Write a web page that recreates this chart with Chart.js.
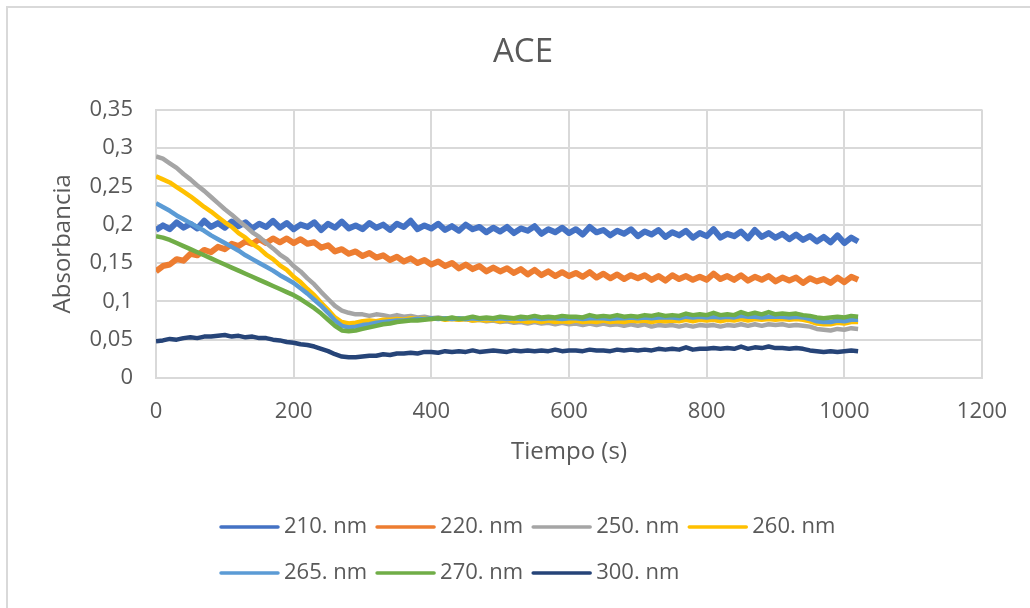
<!DOCTYPE html>
<html>
<head>
<meta charset="utf-8">
<script src="https://cdn.jsdelivr.net/npm/chart.js@4.4.1/dist/chart.umd.min.js"></script>
<style>
  html, body { margin: 0; padding: 0; background: #fff; }
  #wrap { position: relative; width: 1030px; height: 608px; }
</style>
</head>
<body>
<div id="wrap"><canvas id="myChart" width="1030" height="608"></canvas></div>
<script>
// tiempo (s), one reading every 10 s
const tiempo = [
  0, 10, 20, 30, 40, 50, 60, 70, 80, 90,
  100, 110, 120, 130, 140, 150, 160, 170, 180, 190,
  200, 210, 220, 230, 240, 250, 260, 270, 280, 290,
  300, 310, 320, 330, 340, 350, 360, 370, 380, 390,
  400, 410, 420, 430, 440, 450, 460, 470, 480, 490,
  500, 510, 520, 530, 540, 550, 560, 570, 580, 590,
  600, 610, 620, 630, 640, 650, 660, 670, 680, 690,
  700, 710, 720, 730, 740, 750, 760, 770, 780, 790,
  800, 810, 820, 830, 840, 850, 860, 870, 880, 890,
  900, 910, 920, 930, 940, 950, 960, 970, 980, 990,
  1000, 1010, 1020
];

const abs210 = [
  0.193, 0.199, 0.194, 0.203, 0.196, 0.201, 0.195, 0.205, 0.197, 0.202,
  0.196, 0.204, 0.198, 0.203, 0.195, 0.201, 0.197, 0.205, 0.196, 0.202,
  0.194, 0.200, 0.197, 0.203, 0.193, 0.201, 0.196, 0.204, 0.195, 0.199,
  0.194, 0.202, 0.196, 0.200, 0.193, 0.201, 0.197, 0.205, 0.194, 0.199,
  0.195, 0.201, 0.193, 0.198, 0.192, 0.200, 0.194, 0.197, 0.190, 0.196,
  0.191, 0.197, 0.189, 0.195, 0.192, 0.198, 0.188, 0.194, 0.190, 0.196,
  0.189, 0.194, 0.187, 0.197, 0.190, 0.193, 0.186, 0.192, 0.188, 0.194,
  0.185, 0.191, 0.187, 0.193, 0.184, 0.190, 0.186, 0.192, 0.183, 0.189,
  0.185, 0.194, 0.183, 0.188, 0.185, 0.191, 0.182, 0.193, 0.184, 0.189,
  0.183, 0.188, 0.181, 0.187, 0.180, 0.185, 0.178, 0.184, 0.177, 0.186,
  0.176, 0.183, 0.178
];

const abs220 = [
  0.139, 0.146, 0.148, 0.155, 0.153, 0.162, 0.160, 0.167, 0.164, 0.171,
  0.168, 0.175, 0.172, 0.178, 0.175, 0.181, 0.176, 0.182, 0.177, 0.182,
  0.176, 0.181, 0.175, 0.177, 0.170, 0.173, 0.165, 0.168, 0.162, 0.165,
  0.159, 0.163, 0.157, 0.160, 0.154, 0.158, 0.152, 0.156, 0.150, 0.154,
  0.148, 0.152, 0.146, 0.150, 0.143, 0.148, 0.142, 0.146, 0.139, 0.144,
  0.139, 0.143, 0.137, 0.142, 0.135, 0.141, 0.134, 0.139, 0.133, 0.138,
  0.133, 0.137, 0.132, 0.138, 0.131, 0.136, 0.130, 0.135, 0.129, 0.134,
  0.130, 0.134, 0.128, 0.133, 0.127, 0.134, 0.129, 0.133, 0.128, 0.132,
  0.128, 0.136, 0.129, 0.133, 0.128, 0.134, 0.127, 0.132, 0.128, 0.133,
  0.126, 0.131, 0.127, 0.131, 0.124, 0.130, 0.126, 0.129, 0.124, 0.131,
  0.125, 0.132, 0.128
];

const abs250 = [
  0.289, 0.286, 0.280, 0.274, 0.266, 0.259, 0.251, 0.244, 0.236, 0.228,
  0.220, 0.213, 0.205, 0.198, 0.190, 0.184, 0.176, 0.169, 0.161, 0.155,
  0.146, 0.139, 0.130, 0.122, 0.112, 0.103, 0.094, 0.088, 0.085, 0.083,
  0.083, 0.081, 0.083, 0.082, 0.080, 0.082, 0.080, 0.081, 0.079, 0.080,
  0.078, 0.079, 0.077, 0.078, 0.076, 0.077, 0.075, 0.076, 0.074, 0.075,
  0.073, 0.074, 0.072, 0.073, 0.071, 0.073, 0.071, 0.072, 0.070, 0.072,
  0.070, 0.071, 0.069, 0.071, 0.069, 0.071, 0.069, 0.070, 0.068, 0.070,
  0.068, 0.070, 0.067, 0.069, 0.068, 0.069, 0.067, 0.069, 0.067, 0.069,
  0.068, 0.069, 0.067, 0.069, 0.068, 0.070, 0.068, 0.070, 0.068, 0.070,
  0.069, 0.070, 0.068, 0.069, 0.068, 0.067, 0.064, 0.063, 0.062, 0.064,
  0.063, 0.065, 0.064
];

const abs260 = [
  0.263, 0.259, 0.255, 0.249, 0.243, 0.237, 0.230, 0.223, 0.217, 0.210,
  0.203, 0.197, 0.189, 0.183, 0.175, 0.169, 0.161, 0.155, 0.147, 0.141,
  0.132, 0.125, 0.116, 0.108, 0.098, 0.089, 0.079, 0.073, 0.071, 0.072,
  0.074, 0.075, 0.074, 0.076, 0.076, 0.077, 0.076, 0.078, 0.077, 0.078,
  0.077, 0.078, 0.076, 0.077, 0.076, 0.077, 0.075, 0.076, 0.075, 0.076,
  0.074, 0.076, 0.074, 0.075, 0.073, 0.075, 0.073, 0.075, 0.073, 0.074,
  0.073, 0.075, 0.073, 0.074, 0.073, 0.075, 0.073, 0.074, 0.073, 0.075,
  0.074, 0.075, 0.073, 0.075, 0.074, 0.075, 0.074, 0.076, 0.074, 0.076,
  0.075, 0.076, 0.074, 0.076, 0.075, 0.077, 0.075, 0.077, 0.076, 0.077,
  0.076, 0.077, 0.076, 0.077, 0.076, 0.074, 0.071, 0.070, 0.070, 0.072,
  0.071, 0.073, 0.073
];

const abs265 = [
  0.228, 0.223, 0.218, 0.212, 0.207, 0.202, 0.197, 0.192, 0.186, 0.181,
  0.176, 0.171, 0.166, 0.160, 0.155, 0.150, 0.145, 0.140, 0.134, 0.129,
  0.124, 0.117, 0.110, 0.102, 0.094, 0.085, 0.075, 0.068, 0.066, 0.067,
  0.069, 0.070, 0.072, 0.073, 0.074, 0.075, 0.075, 0.076, 0.077, 0.077,
  0.078, 0.077, 0.078, 0.077, 0.078, 0.077, 0.078, 0.077, 0.078, 0.077,
  0.078, 0.077, 0.078, 0.077, 0.078, 0.078, 0.077, 0.078, 0.078, 0.077,
  0.078, 0.078, 0.077, 0.078, 0.078, 0.078, 0.077, 0.078, 0.078, 0.079,
  0.078, 0.079, 0.078, 0.079, 0.079, 0.079, 0.078, 0.080, 0.079, 0.080,
  0.079, 0.080, 0.079, 0.080, 0.079, 0.081, 0.080, 0.080, 0.079, 0.080,
  0.080, 0.080, 0.079, 0.080, 0.079, 0.077, 0.074, 0.073, 0.073, 0.075,
  0.074, 0.076, 0.076
];

const abs270 = [
  0.185, 0.183, 0.180, 0.176, 0.172, 0.168, 0.164, 0.160, 0.156, 0.152,
  0.148, 0.144, 0.140, 0.136, 0.132, 0.128, 0.124, 0.120, 0.116, 0.112,
  0.108, 0.103, 0.097, 0.091, 0.084, 0.076, 0.068, 0.062, 0.061, 0.062,
  0.064, 0.066, 0.068, 0.070, 0.071, 0.073, 0.074, 0.075, 0.075, 0.076,
  0.077, 0.078, 0.077, 0.079, 0.077, 0.078, 0.080, 0.078, 0.079, 0.078,
  0.080, 0.079, 0.078, 0.080, 0.079, 0.081, 0.079, 0.080, 0.079, 0.081,
  0.080, 0.080, 0.079, 0.082, 0.080, 0.081, 0.080, 0.082, 0.080, 0.081,
  0.080, 0.082, 0.081, 0.083, 0.081, 0.082, 0.081, 0.084, 0.082, 0.083,
  0.082, 0.085, 0.082, 0.083, 0.082, 0.086, 0.083, 0.085, 0.083, 0.086,
  0.083, 0.084, 0.083, 0.084, 0.082, 0.081, 0.079, 0.078, 0.079, 0.080,
  0.079, 0.081, 0.080
];

const abs300 = [
  0.048, 0.049, 0.051, 0.050, 0.052, 0.053, 0.052, 0.054, 0.054, 0.055,
  0.056, 0.054, 0.055, 0.053, 0.054, 0.052, 0.052, 0.050, 0.049, 0.047,
  0.046, 0.044, 0.043, 0.041, 0.038, 0.035, 0.031, 0.028, 0.027, 0.027,
  0.028, 0.029, 0.029, 0.031, 0.030, 0.032, 0.032, 0.033, 0.032, 0.034,
  0.034, 0.033, 0.035, 0.034, 0.035, 0.034, 0.036, 0.034, 0.035, 0.036,
  0.035, 0.034, 0.036, 0.035, 0.036, 0.035, 0.036, 0.035, 0.037, 0.035,
  0.036, 0.036, 0.035, 0.037, 0.036, 0.036, 0.035, 0.037, 0.036, 0.037,
  0.036, 0.037, 0.036, 0.038, 0.037, 0.038, 0.037, 0.040, 0.037, 0.038,
  0.038, 0.039, 0.038, 0.039, 0.038, 0.041, 0.038, 0.040, 0.039, 0.041,
  0.039, 0.039, 0.038, 0.039, 0.038, 0.036, 0.035, 0.034, 0.035, 0.034,
  0.035, 0.036, 0.035
];

const seriesLabels = ["210. nm", "220. nm", "250. nm", "260. nm", "265. nm", "270. nm", "300. nm"];
const seriesValues = [abs210, abs220, abs250, abs260, abs265, abs270, abs300];
const seriesColors = ["#4472C4", "#ED7D31", "#A5A5A5", "#FFC000", "#5B9BD5", "#70AD47", "#264478"];

const xTickLabels = ["0", "200", "400", "600", "800", "1000", "1200"];
const yTickLabels = ["0", "0,05", "0,1", "0,15", "0,2", "0,25", "0,3", "0,35"];

const textColor = "#595959";
const gridColor = "#d9d9d9";
const fontFamily = "'Open Sans', sans-serif";

// white background + outer frame like the Excel chart area
const frame = {
  id: "frame",
  beforeDraw(chart) {
    const c = chart.ctx;
    c.save();
    c.fillStyle = "#fff";
    c.fillRect(0, 0, chart.width, chart.height);
    c.strokeStyle = gridColor;
    c.lineWidth = 2;
    c.strokeRect(7, 7, chart.width + 20, chart.height + 20);
    c.restore();
  },
};

// Excel-like legend: rows of 4, left aligned
const legendRows = {
  id: "legendRows",
  afterDraw(chart) {
    const c = chart.ctx;
    const rowY = [527, 573];
    c.save();
    c.font = "22px " + fontFamily;
    c.textBaseline = "middle";
    c.fillStyle = textColor;
    let x = 221;
    chart.data.datasets.forEach((ds, i) => {
      const row = Math.floor(i / 4);
      if (i % 4 === 0) x = 221;
      const y = rowY[row];
      c.strokeStyle = ds.borderColor;
      c.lineWidth = 3.5;
      c.lineCap = "round";
      c.beginPath();
      c.moveTo(x, y);
      c.lineTo(x + 57, y);
      c.stroke();
      c.fillText(ds.label, x + 63, y);
      x += 63 + c.measureText(ds.label).width + 10;
    });
    c.restore();
  },
};

const datasets = seriesLabels.map((label, i) => ({
  label: label,
  data: tiempo.map((t, j) => ({ x: t, y: seriesValues[i][j] })),
  borderColor: seriesColors[i],
  backgroundColor: seriesColors[i],
  borderWidth: i < 2 ? 6 : 4.5,
  borderJoinStyle: "round",
  pointRadius: 0,
  tension: 0,
  fill: false,
  order: seriesLabels.length - i,
}));

const ctx = document.getElementById("myChart");
new Chart(ctx, {
  type: "line",
  data: { datasets: datasets },
  plugins: [frame, legendRows],
  options: {
    responsive: false,
    animation: false,
    devicePixelRatio: 1,
    layout: { padding: { left: 64, right: 48, top: 0, bottom: 130 } },
    plugins: {
      legend: { display: false },
      tooltip: { enabled: false },
      title: {
        display: true,
        text: "ACE",
        color: textColor,
        font: { family: fontFamily, size: 33, weight: "normal" },
        padding: { top: 33, bottom: 37 },
      },
    },
    scales: {
      x: {
        type: "linear",
        min: 0,
        max: 1200,
        ticks: {
          stepSize: 200,
          color: textColor,
          font: { family: fontFamily, size: 22 },
          padding: 21,
          maxRotation: 0,
          callback: (v, i) => xTickLabels[i],
        },
        grid: { color: gridColor, lineWidth: 2, drawTicks: false },
        border: { color: gridColor, width: 2 },
        title: {
          display: true,
          text: "Tiempo (s)",
          color: textColor,
          font: { family: fontFamily, size: 24 },
          padding: { top: 0, bottom: 11 },
        },
        afterFit(scale) {
          scale.height = 100;
        },
      },
      y: {
        min: 0,
        max: 0.35,
        ticks: {
          stepSize: 0.05,
          color: textColor,
          font: { family: fontFamily, size: 22 },
          padding: 23,
          callback: (v, i) => yTickLabels[i],
        },
        grid: { color: gridColor, lineWidth: 2, drawTicks: false },
        border: { color: gridColor, width: 2 },
        title: {
          display: true,
          text: "Absorbancia",
          color: textColor,
          font: { family: fontFamily, size: 24 },
          padding: { top: -15, bottom: 0 },
        },
        afterFit(scale) {
          scale.width = 92;
        },
      },
    },
  },
});
</script>
</body>
</html>
